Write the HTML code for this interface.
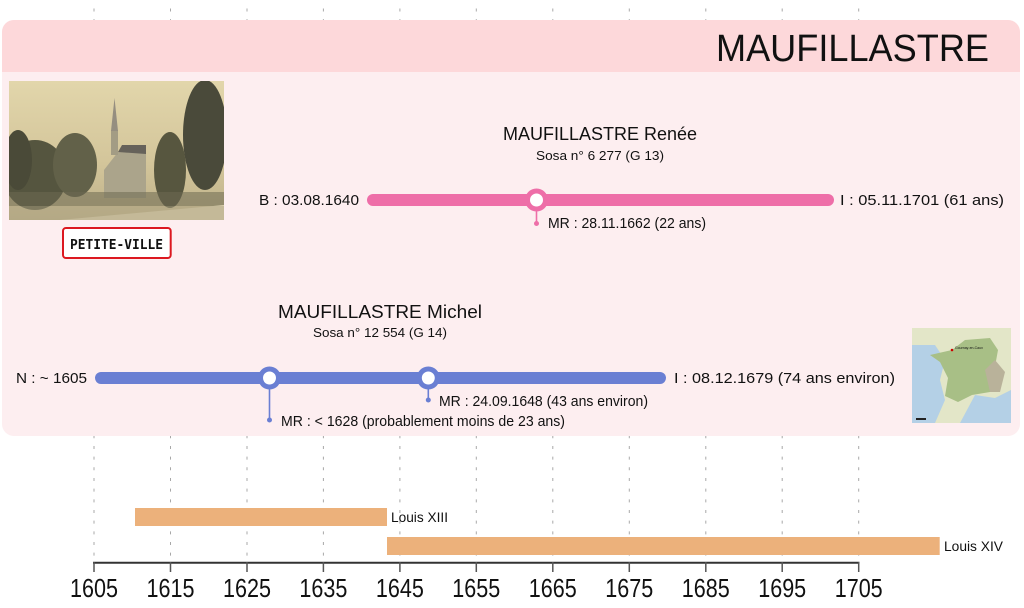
<!DOCTYPE html>
<html><head><meta charset="utf-8"><style>
html,body{margin:0;padding:0;background:#fff;}
svg{display:block;}
text{font-family:"Liberation Sans",sans-serif;fill:#111;}
</style></head><body>
<svg width="1024" height="608" viewBox="0 0 1024 608" xmlns="http://www.w3.org/2000/svg">
<defs>
<linearGradient id="sep" x1="0" y1="0" x2="0" y2="1">
<stop offset="0" stop-color="#e2d6ab"/><stop offset="0.6" stop-color="#d3c59a"/><stop offset="1" stop-color="#bdb089"/>
</linearGradient>
<clipPath id="mapc"><rect x="912" y="328" width="99" height="95"/></clipPath>
<clipPath id="phc"><rect x="9" y="81" width="215" height="139"/></clipPath>
</defs>
<!-- gridlines -->
<g stroke="#a8a8a8" stroke-width="1" stroke-dasharray="3 7.67">
<line x1="94" y1="8.5" x2="94" y2="562"/>
<line x1="170.5" y1="8.5" x2="170.5" y2="562"/>
<line x1="247" y1="8.5" x2="247" y2="562"/>
<line x1="323.4" y1="8.5" x2="323.4" y2="562"/>
<line x1="399.9" y1="8.5" x2="399.9" y2="562"/>
<line x1="476.3" y1="8.5" x2="476.3" y2="562"/>
<line x1="552.8" y1="8.5" x2="552.8" y2="562"/>
<line x1="629.3" y1="8.5" x2="629.3" y2="562"/>
<line x1="705.8" y1="8.5" x2="705.8" y2="562"/>
<line x1="782.2" y1="8.5" x2="782.2" y2="562"/>
<line x1="858.7" y1="8.5" x2="858.7" y2="562"/>
</g>
<!-- card -->
<path d="M2,32 a12,12 0 0 1 12,-12 H1008 a12,12 0 0 1 12,12 V424 a12,12 0 0 1 -12,12 H14 a12,12 0 0 1 -12,-12 Z" fill="#fdeef0"/>
<path d="M2,32 a12,12 0 0 1 12,-12 H1008 a12,12 0 0 1 12,12 V72 H2 Z" fill="#fdd8da"/>
<text x="716" y="61" font-size="38" textLength="273" lengthAdjust="spacingAndGlyphs">MAUFILLASTRE</text>

<!-- photo -->
<g clip-path="url(#phc)">
<rect x="9" y="81" width="215" height="139" fill="url(#sep)"/>
<ellipse cx="35" cy="175" rx="32" ry="35" fill="#55553f"/>
<ellipse cx="75" cy="165" rx="22" ry="32" fill="#626149"/>
<ellipse cx="18" cy="160" rx="14" ry="30" fill="#4a4a38"/>
<ellipse cx="205" cy="135" rx="22" ry="55" fill="#4a4a3a"/>
<ellipse cx="170" cy="170" rx="16" ry="38" fill="#57563f"/>
<polygon points="104,170 118,152 146,152 146,198 104,198" fill="#aba48b"/>
<polygon points="118,152 122,145 146,145 146,154" fill="#66625a"/>
<rect x="111" y="130" width="7" height="25" fill="#a39c84"/>
<polygon points="111,131 114.5,98 118,131" fill="#958e80"/>
<rect x="9" y="192" width="215" height="14" fill="#6e6a52" opacity="0.55"/>
<polygon points="60,220 224,205 224,220" fill="#dcd1ae"/>
<rect x="9" y="206" width="215" height="14" fill="#aca282" opacity="0.5"/>
</g>
<rect x="63" y="228" width="107.7" height="30" rx="3" fill="#fff" stroke="#dc1820" stroke-width="2"/>
<text x="70" y="249" font-size="13" font-weight="bold" textLength="93" lengthAdjust="spacingAndGlyphs" style="font-family:'DejaVu Sans Mono',monospace">PETITE-VILLE</text>

<!-- map -->
<g clip-path="url(#mapc)">
<rect x="912" y="328" width="99" height="95" fill="#e3e6c8"/>
<polygon points="912,345 935,345 945,360 940,380 945,400 935,423 912,423" fill="#b4d0e6"/>
<polygon points="960,423 975,395 995,398 1011,390 1011,423" fill="#b4d0e6"/>
<polygon points="930,355 952,350 965,340 990,338 998,350 994,372 990,392 972,395 958,402 945,396 948,378 940,362" fill="#a8bf86"/>
<polygon points="985,370 995,360 1005,372 1000,392 990,392" fill="#b9b29a"/>
<circle cx="952" cy="350" r="1.3" fill="#c00"/>
<text x="955" y="349" font-size="3.5">Gournay-en-Caux</text>
<rect x="916" y="418" width="10" height="2" fill="#222"/>
</g>

<!-- Renée -->
<text x="600" y="140" font-size="18" text-anchor="middle" textLength="194" lengthAdjust="spacingAndGlyphs">MAUFILLASTRE Renée</text>
<text x="600" y="160" font-size="13" text-anchor="middle" textLength="128" lengthAdjust="spacingAndGlyphs">Sosa n° 6 277 (G 13)</text>
<line x1="373" y1="200" x2="828" y2="200" stroke="#ee6ea8" stroke-width="12" stroke-linecap="round"/>
<text x="259" y="205" font-size="15" textLength="100" lengthAdjust="spacingAndGlyphs">B : 03.08.1640</text>
<text x="840" y="205" font-size="15" textLength="164" lengthAdjust="spacingAndGlyphs">I : 05.11.1701 (61 ans)</text>
<line x1="536.5" y1="205" x2="536.5" y2="223" stroke="#ee6ea8" stroke-width="1.6"/>
<circle cx="536.5" cy="223.5" r="2.5" fill="#ee6ea8"/>
<circle cx="536.5" cy="200" r="9" fill="#fff" stroke="#ee6ea8" stroke-width="5"/>
<text x="548" y="228" font-size="15" textLength="158" lengthAdjust="spacingAndGlyphs">MR : 28.11.1662 (22 ans)</text>

<!-- Michel -->
<text x="380" y="318" font-size="18" text-anchor="middle" textLength="204" lengthAdjust="spacingAndGlyphs">MAUFILLASTRE Michel</text>
<text x="380" y="337" font-size="13" text-anchor="middle" textLength="134" lengthAdjust="spacingAndGlyphs">Sosa n° 12 554 (G 14)</text>
<line x1="101" y1="378" x2="660" y2="378" stroke="#6a7fd3" stroke-width="12" stroke-linecap="round"/>
<text x="16" y="383" font-size="15" textLength="71" lengthAdjust="spacingAndGlyphs">N : ~ 1605</text>
<text x="674" y="383" font-size="15" textLength="221" lengthAdjust="spacingAndGlyphs">I : 08.12.1679 (74 ans environ)</text>
<line x1="269.5" y1="383" x2="269.5" y2="420" stroke="#6a7fd3" stroke-width="1.6"/>
<circle cx="269.5" cy="420" r="2.5" fill="#6a7fd3"/>
<line x1="428.3" y1="383" x2="428.3" y2="400" stroke="#6a7fd3" stroke-width="1.6"/>
<circle cx="428.3" cy="400" r="2.5" fill="#6a7fd3"/>
<circle cx="269.5" cy="378" r="9" fill="#fff" stroke="#6a7fd3" stroke-width="5"/>
<circle cx="428.3" cy="378" r="9" fill="#fff" stroke="#6a7fd3" stroke-width="5"/>
<text x="439" y="406" font-size="15" textLength="209" lengthAdjust="spacingAndGlyphs">MR : 24.09.1648 (43 ans environ)</text>
<text x="281" y="426" font-size="15" textLength="284" lengthAdjust="spacingAndGlyphs">MR : &lt; 1628 (probablement moins de 23 ans)</text>

<!-- kings -->
<rect x="135" y="508" width="252" height="18" fill="#ecb17b"/>
<text x="391" y="522" font-size="13.5" textLength="57" lengthAdjust="spacingAndGlyphs">Louis XIII</text>
<rect x="387" y="537" width="552.7" height="18" fill="#ecb17b"/>
<text x="944" y="551" font-size="13.5" textLength="59" lengthAdjust="spacingAndGlyphs">Louis XIV</text>

<!-- axis -->
<line x1="93" y1="562.7" x2="859.5" y2="562.7" stroke="#333" stroke-width="2"/>
<g stroke="#555" stroke-width="1.5">
<line x1="94" y1="562" x2="94" y2="572"/>
<line x1="170.5" y1="562" x2="170.5" y2="572"/>
<line x1="247" y1="562" x2="247" y2="572"/>
<line x1="323.4" y1="562" x2="323.4" y2="572"/>
<line x1="399.9" y1="562" x2="399.9" y2="572"/>
<line x1="476.3" y1="562" x2="476.3" y2="572"/>
<line x1="552.8" y1="562" x2="552.8" y2="572"/>
<line x1="629.3" y1="562" x2="629.3" y2="572"/>
<line x1="705.8" y1="562" x2="705.8" y2="572"/>
<line x1="782.2" y1="562" x2="782.2" y2="572"/>
<line x1="858.7" y1="562" x2="858.7" y2="572"/>
</g>
<g font-size="26" text-anchor="middle" fill="#111">
<text x="94" y="597" textLength="48" lengthAdjust="spacingAndGlyphs">1605</text>
<text x="170.5" y="597" textLength="48" lengthAdjust="spacingAndGlyphs">1615</text>
<text x="247" y="597" textLength="48" lengthAdjust="spacingAndGlyphs">1625</text>
<text x="323.4" y="597" textLength="48" lengthAdjust="spacingAndGlyphs">1635</text>
<text x="399.9" y="597" textLength="48" lengthAdjust="spacingAndGlyphs">1645</text>
<text x="476.3" y="597" textLength="48" lengthAdjust="spacingAndGlyphs">1655</text>
<text x="552.8" y="597" textLength="48" lengthAdjust="spacingAndGlyphs">1665</text>
<text x="629.3" y="597" textLength="48" lengthAdjust="spacingAndGlyphs">1675</text>
<text x="705.8" y="597" textLength="48" lengthAdjust="spacingAndGlyphs">1685</text>
<text x="782.2" y="597" textLength="48" lengthAdjust="spacingAndGlyphs">1695</text>
<text x="858.7" y="597" textLength="48" lengthAdjust="spacingAndGlyphs">1705</text>
</g>
</svg>
</body></html>
